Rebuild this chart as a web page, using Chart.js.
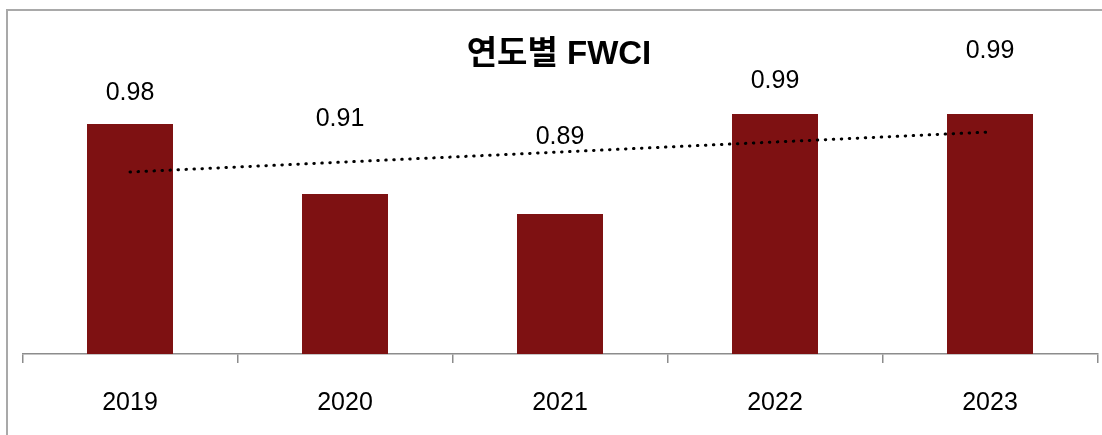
<!DOCTYPE html>
<html>
<head>
<meta charset="utf-8">
<script src="https://cdn.jsdelivr.net/npm/chart.js"></script>
<style>
  html, body { margin: 0; padding: 0; background: #fff; }
  #wrap { position: relative; width: 1102px; height: 435px; }
</style>
</head>
<body>
<div id="wrap"><canvas id="fwci"></canvas></div>
<script>
// dati
const years = ['2019', '2020', '2021', '2022', '2023'];
const fwci = [0.98, 0.91, 0.89, 0.99, 0.99];
const valueLabels = ['0.98', '0.91', '0.89', '0.99', '0.99'];

// spostamento verticale delle etichette rispetto alla cima della barra (px)
const labelOffsets = [-31, -75, -77, -33, -63];
const labelShiftX = [0, -5, 0, 0, 0];

const FONT = '"Liberation Sans", Arial, "Noto Sans CJK KR", sans-serif';

// retta di tendenza lineare (minimi quadrati)
function trend(values) {
  const n = values.length;
  const mx = (n - 1) / 2;
  const my = values.reduce((a, b) => a + b, 0) / n;
  let num = 0, den = 0;
  values.forEach((v, i) => { num += (i - mx) * (v - my); den += (i - mx) * (i - mx); });
  const slope = num / den;
  return values.map((_, i) => my + slope * (i - mx));
}

const framePlugin = {
  id: 'frame',
  beforeDraw(chart) {
    const c = chart.ctx;
    c.save();
    c.strokeStyle = '#a9a9a9';
    c.lineWidth = 2;
    c.strokeRect(7, 10, 1300, 800);
    c.restore();
  }
};

const labelPlugin = {
  id: 'labels',
  afterDatasetsDraw(chart) {
    const c = chart.ctx;
    const meta = chart.getDatasetMeta(1); // barre
    c.save();
    c.fillStyle = '#000';
    c.font = '25px ' + FONT;
    c.textAlign = 'center';
    c.textBaseline = 'middle';
    meta.data.forEach((bar, i) => {
      c.fillText(valueLabels[i], bar.x + labelShiftX[i], bar.y + labelOffsets[i]);
    });
    // titolo
    c.font = 'bold 33px ' + FONT;
    c.fillText('연도별 FWCI', 559, 55);
    c.restore();
  }
};

new Chart(document.getElementById('fwci'), {
  type: 'bar',
  data: {
    labels: years,
    datasets: [
      {
        type: 'line',
        data: trend(fwci),
        borderColor: '#000',
        borderWidth: 3,
        borderDash: [0.5, 7.5],
        borderCapStyle: 'round',
        pointRadius: 0,
        fill: false,
        order: 0
      },
      {
        data: fwci,
        backgroundColor: '#7e1112',
        barPercentage: 0.4,
        categoryPercentage: 1,
        order: 1
      }
    ]
  },
  options: {
    responsive: true,
    maintainAspectRatio: false,
    animation: false,
    layout: { padding: { left: 22.5, right: 4.5, top: 4, bottom: 0 } },
    plugins: {
      legend: { display: false },
      tooltip: { enabled: false }
    },
    scales: {
      y: { display: false, min: 0.75, max: 1.1 },
      x: {
        afterFit: scale => { scale.height = 81; },
        grid: { offset: true, drawOnChartArea: false, tickLength: 9, color: '#8c8c8c', lineWidth: 1.5 },
        border: { color: '#8c8c8c', width: 1.5 },
        ticks: { color: '#000', padding: 25, font: { size: 25, family: FONT } }
      }
    }
  },
  plugins: [framePlugin, labelPlugin]
});
</script>
</body>
</html>
